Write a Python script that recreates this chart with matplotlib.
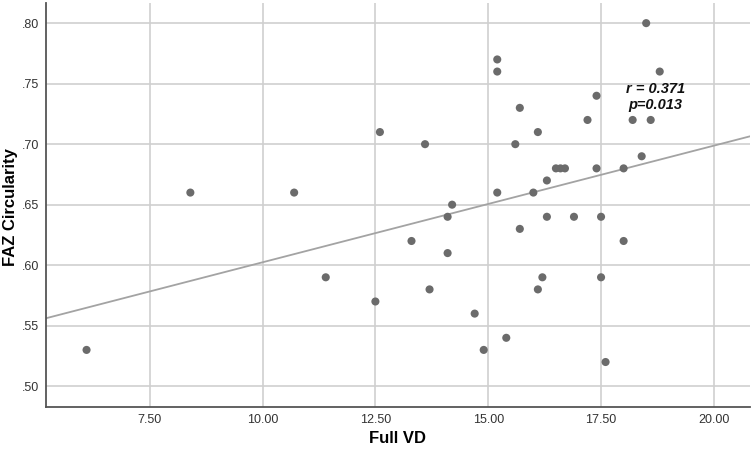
import numpy as np
import matplotlib.pyplot as plt
from matplotlib.ticker import FuncFormatter

plt.rcParams['font.family'] = ['Liberation Sans', 'DejaVu Sans']

# Full VD vs FAZ circularity
full_vd = [6.1, 8.4, 10.7, 11.4, 12.5, 12.6, 13.3, 13.6, 13.7, 14.1, 14.1,
           14.2, 14.7, 14.9, 15.2, 15.2, 15.2, 15.4, 15.6, 15.7, 15.7, 16.0,
           16.1, 16.1, 16.2, 16.3, 16.3, 16.5, 16.6, 16.7, 16.9, 17.2, 17.4,
           17.4, 17.5, 17.5, 17.6, 18.0, 18.0, 18.2, 18.4, 18.5, 18.6, 18.8]
faz_circ = [0.53, 0.66, 0.66, 0.59, 0.57, 0.71, 0.62, 0.70, 0.58, 0.64, 0.61,
            0.65, 0.56, 0.53, 0.77, 0.76, 0.66, 0.54, 0.70, 0.73, 0.63, 0.66,
            0.71, 0.58, 0.59, 0.67, 0.64, 0.68, 0.68, 0.68, 0.64, 0.72, 0.74,
            0.68, 0.64, 0.59, 0.52, 0.68, 0.62, 0.72, 0.69, 0.80, 0.72, 0.76]

x_ticks = [7.5, 10.0, 12.5, 15.0, 17.5, 20.0]
y_ticks = [0.50, 0.55, 0.60, 0.65, 0.70, 0.75, 0.80]
r_text = "r = 0.371"
p_text = "p=0.013"

fig = plt.figure(figsize=(7.53, 4.53), dpi=100)
ax = fig.add_axes([0.061, 0.102, 0.935, 0.891])

x = np.array(full_vd)
y = np.array(faz_circ)

# linear fit line across the whole x range
slope, intercept = np.polyfit(x, y, 1)
xlim = (5.2, 20.8)
xs = np.array(xlim)
ax.plot(xs, slope * xs + intercept, color='#a3a3a3', lw=1.3, zorder=2)

ax.scatter(x, y, s=34, color='#6b6b6b', edgecolors='none', zorder=3)

ax.set_xlim(*xlim)
ax.set_ylim(0.483, 0.8165)
ax.set_xticks(x_ticks)
ax.set_yticks(y_ticks)
ax.xaxis.set_major_formatter(FuncFormatter(lambda v, p: f"{v:.2f}"))
ax.yaxis.set_major_formatter(FuncFormatter(lambda v, p: f"{v:.2f}".lstrip('0')))
ax.grid(True, color='#cfcfcf', lw=1.2)
ax.set_axisbelow(True)
ax.tick_params(length=0, labelsize=9, colors='#333333', pad=5)

for s in ['top', 'right']:
    ax.spines[s].set_visible(False)
for s in ['left', 'bottom']:
    ax.spines[s].set_color('#555555')
    ax.spines[s].set_linewidth(1.3)

ax.set_xlabel("Full VD", fontsize=12, fontweight='bold')
ax.set_ylabel("FAZ Circularity", fontsize=12, fontweight='bold')
ax.xaxis.set_label_coords(0.5, -0.078)
ax.yaxis.set_label_coords(-0.05, 0.495)
ax.xaxis.label.set_va('center')
ax.yaxis.label.set_va('center')

stat_style = dict(ha='center', va='center', fontsize=10.5, fontweight='bold',
                  fontstyle='italic', color='#111111')
ax.text(18.70, 0.7455, r_text, **stat_style)
ax.text(18.70, 0.7325, p_text, **stat_style)

fig.savefig("out.png", dpi=100)
